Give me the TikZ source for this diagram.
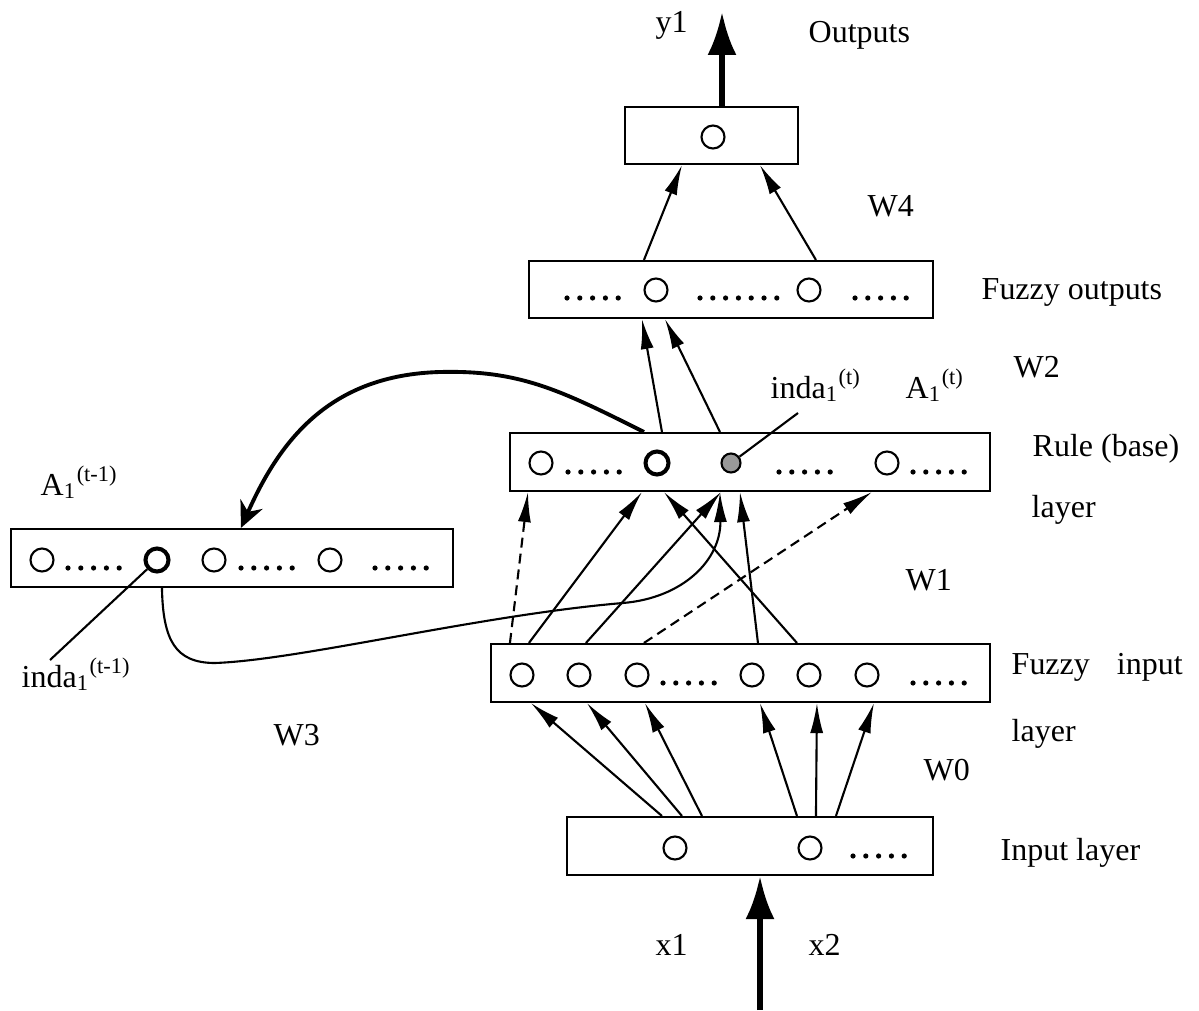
\documentclass[tikz,border=0pt]{standalone}
\usepackage{fontspec}
\setmainfont{Liberation Serif}
\usetikzlibrary{arrows.meta,positioning,calc}

% row of bold dots standing for the omitted units
\newcommand{\dotrow}[3]{%
  \foreach \k in {1,...,#3} {\fill ({#1+0.128*(\k-1)},#2) circle (0.026);}}

\begin{document}
\begin{tikzpicture}[
        layerbox/.style={draw, line width=0.6pt, minimum height=0.58cm, inner sep=0pt},
        unit/.style={circle, draw, line width=0.6pt, minimum size=0.23cm, inner sep=0pt},
        active/.style={unit, line width=1.15pt},
        fired/.style={unit, fill=black!40, minimum size=0.19cm},
        link/.style={-{Latex[length=3mm,width=1.3mm]}, line width=0.6pt},
        weak/.style={link, dash pattern=on 1mm off 0.6mm},
        feedback/.style={-{Stealth[length=2.6mm,width=2.4mm]}, line width=1.1pt},
        bigarrow/.style={-{Latex[length=4.3mm,width=2.9mm]}, line width=1.6pt},
        leader/.style={line width=0.6pt},
        lbl/.style={font=\fontsize{9.1}{11}\selectfont, inner sep=0pt, anchor=base west}
    ]
        \useasboundingbox (0,0) rectangle (11.99,10.10);

        % Layer boxes
        \node[layerbox, minimum width=1.73cm, minimum height=0.57cm] (outbox) at (7.115,8.745) {};
        \node[layerbox, minimum width=4.04cm, minimum height=0.57cm] (fobox) at (7.31,7.205) {};
        \node[layerbox, minimum width=4.80cm] (rulebox) at (7.50,5.48) {};
        \node[layerbox, minimum width=4.99cm] (fibox) at (7.405,3.37) {};
        \node[layerbox, minimum width=3.66cm] (inbox) at (7.50,1.64) {};
        \node[layerbox, minimum width=4.42cm] (histbox) at (2.32,4.52) {};

        % Units of each layer
        \node[unit] (o1) at (7.13,8.73) {};
        \node[unit] (fo1) at (6.56,7.20) {};
        \node[unit] (fo2) at (8.09,7.20) {};
        \node[unit] (r1) at (5.41,5.47) {};
        \node[active] (r2) at (6.57,5.47) {};
        \node[fired] (r3) at (7.31,5.47) {};
        \node[unit] (r4) at (8.87,5.47) {};
        \node[unit] (h1) at (0.42,4.50) {};
        \node[active] (h2) at (1.57,4.50) {};
        \node[unit] (h3) at (2.14,4.50) {};
        \node[unit] (h4) at (3.30,4.50) {};
        \foreach \x [count=\i] in {5.22,5.79,6.37,7.52,8.09,8.67}
            \node[unit] (f\i) at (\x,3.35) {};
        \node[unit] (i1) at (6.75,1.62) {};
        \node[unit] (i2) at (8.10,1.62) {};

        % Dots between units
        \dotrow{5.67}{7.12}{5} \dotrow{7.00}{7.12}{7} \dotrow{8.55}{7.12}{5}
        \dotrow{5.68}{5.38}{5} \dotrow{7.79}{5.38}{5} \dotrow{9.13}{5.38}{5}
        \dotrow{0.68}{4.42}{5} \dotrow{2.41}{4.42}{5} \dotrow{3.75}{4.42}{5}
        \dotrow{6.63}{3.27}{5} \dotrow{9.13}{3.27}{5}
        \dotrow{8.53}{1.54}{5}

        % External input and output
        \coordinate (ytip) at (7.22,9.98);
        \coordinate (xtail) at (7.60,0);
        \draw[bigarrow] ([xshift=0.105cm]outbox.north) -- (ytip);
        \draw[bigarrow] (xtail) -- ([xshift=0.10cm]inbox.south);

        % W0: input layer to fuzzy input layer
        \foreach \a/\b in {0.96/0.41,1.16/0.97,1.36/1.55,2.31/2.70,2.50/3.27,2.70/3.84}
            \draw[link] ([xshift=\a cm]inbox.north west) -- ([xshift=\b cm]fibox.south west);

        % W1: fuzzy input layer to rule layer
        \foreach \a/\b in {0.39/1.33,0.96/2.12,2.68/2.31,3.07/1.55}
            \draw[link] ([xshift=\a cm]fibox.north west) -- ([xshift=\b cm]rulebox.south west);
        \draw[weak] ([xshift=0.20cm]fibox.north west) -- ([xshift=0.19cm]rulebox.south west);
        \draw[weak] ([xshift=1.54cm]fibox.north west) -- ([xshift=3.63cm]rulebox.south west);

        % W2 and W4
        \draw[link] ([xshift=1.53cm]rulebox.north west) -- ([xshift=1.14cm]fobox.south west);
        \draw[link] ([xshift=2.11cm]rulebox.north west) -- ([xshift=1.37cm]fobox.south west);
        \draw[link] ([xshift=1.16cm]fobox.north west) -- ([xshift=0.58cm]outbox.south west);
        \draw[link] ([xshift=2.88cm]fobox.north west) -- ([xshift=1.36cm]outbox.south west);

        % Recurrent copy of the rule activations and W3 feedback
        \draw[feedback] ([xshift=1.35cm]rulebox.north west)
            .. controls (5.60,6.20) and (5.20,6.40) .. (4.40,6.38)
            .. controls (3.30,6.35) and (2.80,5.70) .. ([xshift=2.31cm]histbox.north west);
        \draw[link] ([xshift=1.52cm]histbox.south west)
            .. controls (1.63,3.70) and (1.75,3.47) .. (2.15,3.47)
            .. controls (3.00,3.50) and (4.80,3.95) .. (6.23,4.07)
            .. controls (6.83,4.12) and (7.21,4.50) .. ([xshift=2.11cm]rulebox.south west);

        % Leaders to the marked units
        \coordinate (indatend) at (7.98,5.97);
        \coordinate (indapend) at (0.50,3.50);
        \draw[leader] (r3) -- (indatend);
        \draw[leader] (h2) -- (indapend);

        % Labels
        \node[lbl] (ylab) at (6.55,9.77) {y1};
        \node[lbl] (outlab) at (8.08,9.67) {Outputs};
        \node[lbl] (w4lab) at (8.67,7.93) {W4};
        \node[lbl] (folab) at (9.81,7.10) {Fuzzy outputs};
        \node[lbl] (w2lab) at (10.13,6.33) {W2};
        \node[lbl] (indat) at (7.70,6.12) {inda\textsubscript{1}\textsuperscript{(t)}};
        \node[lbl] (atlab) at (9.05,6.12) {A\textsubscript{1}\textsuperscript{(t)}};
        \node[lbl] (rulelab) at (10.32,5.54) {Rule (base)};
        \node[lbl] (rulelab2) at (10.31,4.93) {layer};
        \node[lbl] (aprev) at (0.40,5.15) {A\textsubscript{1}\textsuperscript{(t-1)}};
        \node[lbl] (w1lab) at (9.05,4.20) {W1};
        \node[lbl] (filab) at (10.11,3.36) {Fuzzy\hspace{2.7mm}input};
        \node[lbl] (filab2) at (10.11,2.69) {layer};
        \node[lbl] (indap) at (0.21,3.23) {inda\textsubscript{1}\textsuperscript{(t-1)}};
        \node[lbl] (w3lab) at (2.73,2.65) {W3};
        \node[lbl] (w0lab) at (9.23,2.30) {W0};
        \node[lbl] (inlab) at (10.00,1.50) {Input layer};
        \node[lbl] (x1lab) at (6.55,0.55) {x1};
        \node[lbl] (x2lab) at (8.08,0.55) {x2};
    \end{tikzpicture}
\end{document}
